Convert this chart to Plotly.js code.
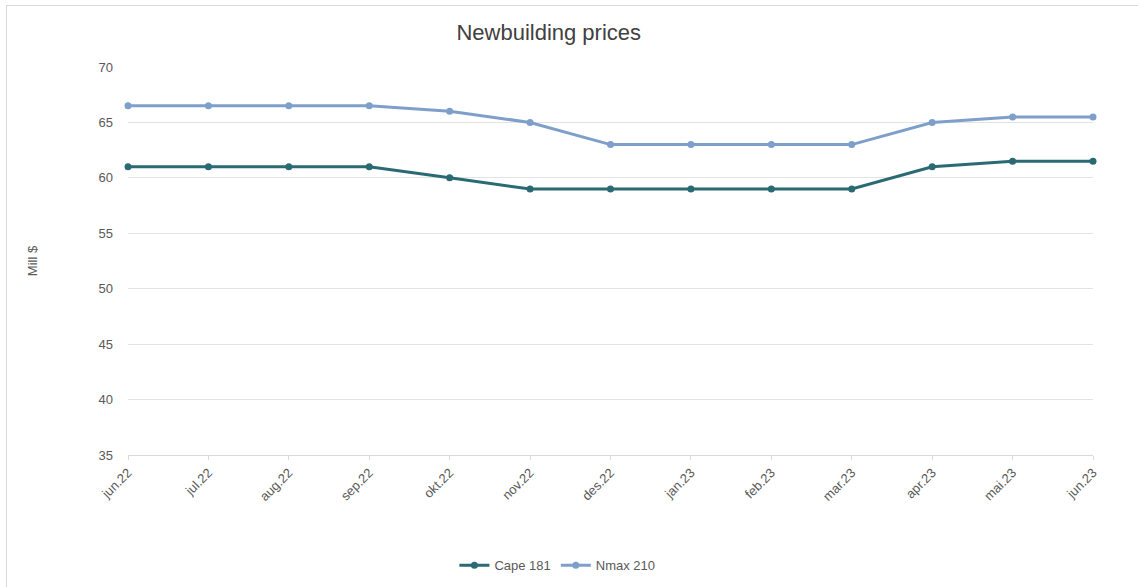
<!DOCTYPE html>
<html>
<head>
<meta charset="utf-8">
<script src="https://cdn.plot.ly/plotly-3.0.1.min.js"></script>
<style>
html,body{margin:0;padding:0;width:1138px;height:587px;overflow:hidden;background:#fff;}
#frame{position:absolute;left:6px;top:5px;width:1200px;height:700px;border:1px solid #d9d9d9;box-sizing:border-box;}
#chart{position:absolute;left:0;top:0;width:1138px;height:587px;}
</style>
</head>
<body>
<div id="frame"></div>
<div id="chart"></div>
<script>
const months = ["jun.22","jul.22","aug.22","sep.22","okt.22","nov.22","des.22","jan.23","feb.23","mar.23","apr.23","mai.23","jun.23"];
const cape181 = [61, 61, 61, 61, 60, 59, 59, 59, 59, 59, 61, 61.5, 61.5];
const nmax210 = [66.5, 66.5, 66.5, 66.5, 66, 65, 63, 63, 63, 63, 65, 65.5, 65.5];
const yTicks = [35, 40, 45, 50, 55, 60, 65, 70];

const traces = [
  {x: months, y: cape181, name: "Cape 181", type: "scatter", mode: "lines+markers", cliponaxis: false,
   line: {color: "#2a6a73", width: 3}, marker: {color: "#2a6a73", size: 7}},
  {x: months, y: nmax210, name: "Nmax 210", type: "scatter", mode: "lines+markers", cliponaxis: false,
   line: {color: "#7f9fcb", width: 3}, marker: {color: "#7f9fcb", size: 7}}
];

const layout = {
  width: 1138, height: 587,
  paper_bgcolor: "rgba(0,0,0,0)", plot_bgcolor: "rgba(0,0,0,0)",
  margin: {l: 128, r: 45, t: 67, b: 132, autoexpand: false},
  font: {family: "Liberation Sans, Arial, sans-serif", color: "#595959", size: 12},
  title: {text: "Newbuilding prices", xref: "paper", x: 0.436, xanchor: "center", y: 0.945, yanchor: "middle",
          font: {size: 22, color: "#404040"}},
  showlegend: true,
  legend: {orientation: "h", x: 0.445, xanchor: "center", y: -0.284, yanchor: "middle",
           font: {size: 13, color: "#595959"}, itemwidth: 30, tracegroupgap: 0},
  xaxis: {type: "category", range: [0, 12], automargin: false, showgrid: false, zeroline: false,
          showline: true, linecolor: "#d9d9d9", linewidth: 1,
          ticks: "outside", ticklen: 4, tickcolor: "#d9d9d9",
          tickangle: -45, tickfont: {size: 13, color: "#595959"}},
  yaxis: {range: [35, 70], tickvals: yTicks, automargin: false, showgrid: true, gridcolor: "#e3e3e3",
          zeroline: false, showline: false, ticks: "", ticklabelstandoff: 14,
          tickfont: {size: 13, color: "#595959"},
          title: {text: "Mill $", standoff: 57, font: {size: 13, color: "#595959"}}}
};

Plotly.newPlot("chart", traces, layout, {displayModeBar: false, staticPlot: true});
</script>
</body>
</html>
